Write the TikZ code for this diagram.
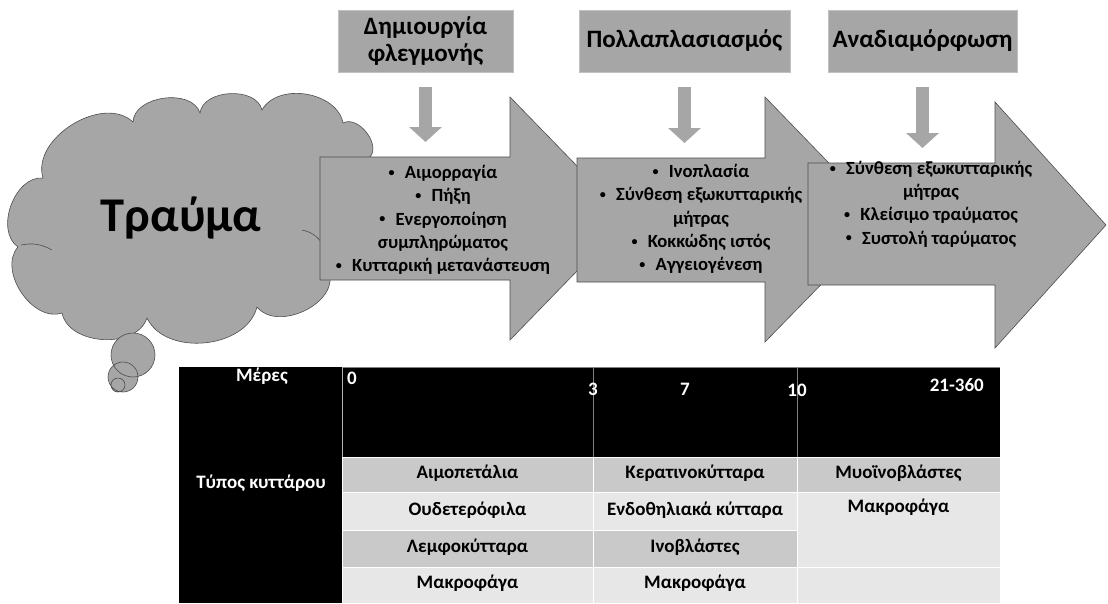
\documentclass[tikz,border=0pt]{standalone}
\usepackage{fontspec}
\setmainfont{Carlito}
\usetikzlibrary{arrows.meta,positioning}
\definecolor{shapegray}{HTML}{A6A6A6}
\definecolor{edgegray}{HTML}{4D4D4D}
\definecolor{rowdark}{HTML}{C9C9C9}
\definecolor{rowlight}{HTML}{E7E7E7}
\newcommand{\stagebullet}{\raisebox{.12em}{\scalebox{.65}{•}}\hspace{.55em}}

\begin{document}
\begin{tikzpicture}[x=1pt,y=-1pt,
	cloudfill/.style={fill=shapegray,draw=edgegray,line width=0.6pt},
	chevron/.style={fill=shapegray,draw=edgegray,line width=0.6pt},
	hdrbox/.style={fill=shapegray,draw=shapegray!70!white,line width=0.6pt,minimum height=62pt,inner sep=0pt,align=center,font=\bfseries\fontsize{25}{27}\selectfont},
	stagetext/.style={align=center,font=\bfseries\fontsize{18.6}{23.3}\selectfont},
	downarr/.style={draw=shapegray,line width=13pt,-{Triangle[width=32pt,length=15pt]},shorten <=15pt,shorten >=15pt},
	daycell/.style={text=white,inner sep=0pt,font=\bfseries\fontsize{19}{22}\selectfont},
	cell/.style={inner sep=0pt,font=\bfseries\fontsize{19}{22}\selectfont},
	]
	\useasboundingbox (0,0) rectangle (1108,603);
	% cloud
	\filldraw[cloudfill] (43,178) to[bend left=75] (133,122) to[bend left=80] (200,113) to[bend left=80] (262,110) to[bend left=70] (343,123) to[bend left=80] (370,157) -- (370,275) -- (330,275)
		to[bend left=75] (257,307) to[bend left=70] (147,318) to[bend left=75] (62,313) to[bend left=75] (18,247) to[bend left=75] cycle;
	\draw[edgegray,line width=0.6pt] (21,245) to[bend left=20] (52,250);
	\draw[edgegray,line width=0.6pt] (302,230) to[bend left=20] (322,243);
	\fill[shapegray] (133,355) circle (22) (123,377) circle (15) (118,385) circle (7);
	\draw[edgegray,line width=0.6pt] (133,355) circle (22) (123,377) circle (15) (118,385) circle (7);
	\node[font=\bfseries\fontsize{48.5}{52}\selectfont,anchor=base] (wound) at (181,231) {Τραύμα};

	% stages
	\filldraw[chevron] (320,157) coordinate (arrA nw) -- (510,157) -- (510,97) -- (628,218.5) -- (510,340) -- (510,280) -- (320,280) -- cycle;
	\filldraw[chevron] (577,158) coordinate (arrB nw) -- (765,158) -- (765,97) -- (884,220) -- (765,342) -- (765,282) -- (577,282) -- cycle;
	\filldraw[chevron] (808,163) coordinate (arrC nw) -- (995,163) -- (995,102) -- (1106,225) -- (995,348) -- (995,285) -- (808,285) -- cycle;

	\node[stagetext] (listA) at (443,220) {\stagebullet Αιμορραγία\\ \stagebullet Πήξη\\ \stagebullet Ενεργοποίηση\\ συμπληρώματος\\ \stagebullet Κυτταρική μετανάστευση};
	\node[stagetext] (listB) at (701,219) {\stagebullet Ινοπλασία\\ \stagebullet Σύνθεση εξωκυτταρικής\\ μήτρας\\ \stagebullet Κοκκώδης ιστός\\ \stagebullet Αγγειογένεση};
	\node[stagetext] (listC) at (931,204) {\stagebullet Σύνθεση εξωκυτταρικής\\ μήτρας\\ \stagebullet Κλείσιμο τραύματος\\ \stagebullet Συστολή ταρύματος};

	\node[hdrbox,minimum width=175pt] (hdrA) at (425.5,41) {Δημιουργία\\φλεγμονής};
	\node[hdrbox,minimum width=211pt] (hdrB) at (684.5,41) {Πολλαπλασιασμός};
	\node[hdrbox,minimum width=189pt] (hdrC) at (922.5,41) {Αναδιαμόρφωση};
	\draw[downarr] (hdrA.south) -- (hdrA.south |- arrA nw);
	\draw[downarr] (hdrB.south) -- (hdrB.south |- arrB nw);
	\draw[downarr] (hdrC.south) -- (hdrC.south |- arrC nw);

	% table
	\fill (179,367) rectangle (1000,457);
	\fill (179,457) rectangle (342,603);
	\draw[gray,line width=0.8pt] (342,367) -- (1000,367);
	\draw[gray!60,line width=0.8pt] (342,367) -- (342,457);
	\draw[gray,line width=0.8pt] (593,367) -- (593,457);
	\draw[gray,line width=0.8pt] (797,367) -- (797,457);
	\filldraw[fill=rowdark,draw=white] (342,457) rectangle (593,492) (593,457) rectangle (797,492) (797,457) rectangle (1000,492);
	\filldraw[fill=rowlight,draw=white] (342,492) rectangle (593,530) (593,492) rectangle (797,530);
	\filldraw[fill=rowdark,draw=white] (342,530) rectangle (593,567) (593,530) rectangle (797,567);
	\filldraw[fill=rowlight,draw=white] (342,567) rectangle (593,603) (593,567) rectangle (797,603);
	\filldraw[fill=rowlight,draw=white] (797,492) rectangle (1000,567) (797,567) rectangle (1000,603);

	\node[daycell] (days) at (262,376) {Μέρες};
	\node[daycell,anchor=west] (d0) at (347,378) {0};
	\node[daycell] (d3) at (593,389) {3};
	\node[daycell] (d7) at (685,389) {7};
	\node[daycell] (d10) at (797,390) {10};
	\node[daycell,anchor=east] (d21) at (984,385) {21-360};
	\node[daycell] (celltype) at (261,483) {Τύπος κυττάρου};

	\node[cell] (c11) at (467.5,473) {Αιμοπετάλια};
	\node[cell] (c12) at (467.5,510) {Ουδετερόφιλα};
	\node[cell] (c13) at (467.5,547) {Λεμφοκύτταρα};
	\node[cell] (c14) at (467.5,583) {Μακροφάγα};
	\node[cell] (c21) at (695,473) {Κερατινοκύτταρα};
	\node[cell] (c22) at (695,510) {Ενδοθηλιακά κύτταρα};
	\node[cell] (c23) at (695,547) {Ινοβλάστες};
	\node[cell] (c24) at (695,583) {Μακροφάγα};
	\node[cell] (c31) at (898.5,473) {Μυοϊνοβλάστες};
	\node[cell] (c32) at (898.5,507) {Μακροφάγα};
\end{tikzpicture}
\end{document}
